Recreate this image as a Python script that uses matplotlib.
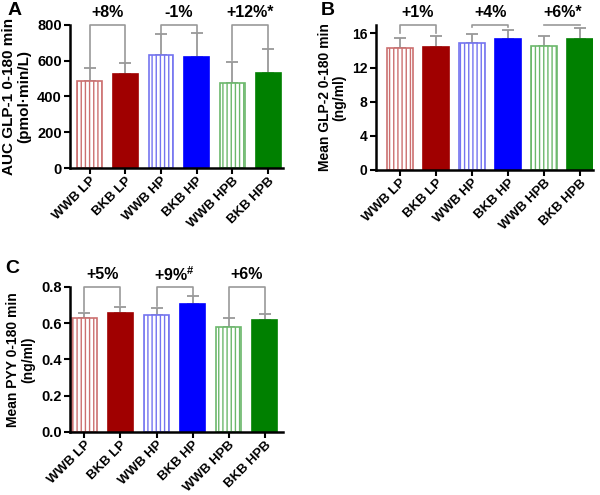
import numpy as np
import matplotlib
matplotlib.use('Agg')
import matplotlib.pyplot as plt

plt.rcParams['font.family'] = ['Liberation Sans', 'DejaVu Sans']
plt.rcParams['font.weight'] = 'bold'
plt.rcParams['mathtext.fontset'] = 'custom'
plt.rcParams['mathtext.rm'] = 'Liberation Sans:bold'
plt.rcParams['mathtext.bf'] = 'Liberation Sans:bold'
plt.rcParams['hatch.linewidth'] = 1.0

# data
groups = ['WWB LP', 'BKB LP', 'WWB HP', 'BKB HP', 'WWB HPB', 'BKB HPB']

glp1_mean = [488, 526, 630, 623, 474, 529]
glp1_err = [70, 59, 117, 130, 120, 135]
glp1_labels = ['+8%', '-1%', '+12%*']

glp2_mean = [14.24, 14.45, 14.85, 15.37, 14.5, 15.37]
glp2_err = [1.26, 1.25, 1.05, 1.03, 1.2, 1.23]
glp2_labels = ['+1%', '+4%', '+6%*']

pyy_mean = [0.627, 0.655, 0.646, 0.705, 0.581, 0.617]
pyy_err = [0.030, 0.036, 0.040, 0.043, 0.045, 0.032]
pyy_labels = ['+5%', '+9%$^{\\#}$', '+6%']

dark = ['#a00000', '#a00000', '#0000ff', '#0000ff', '#008000', '#008000']
light = ['#cc7070', '#cc7070', '#7474f0', '#7474f0', '#6cb86c', '#6cb86c']
grey = '#999999'


def panel(ax, mean, err, labels, ytop, yticks, ylabel, xlim, width,
          same_legs=False, ylsize=10, ytsize=10):
    x = np.arange(len(groups))
    for i in range(len(groups)):
        if i % 2 == 0:
            ax.bar(x[i], mean[i], width, color='white', edgecolor=light[i],
                   hatch='||||', linewidth=1.2, zorder=2)
        else:
            ax.bar(x[i], mean[i], width, color=dark[i], edgecolor=dark[i],
                   linewidth=1.2, zorder=2)
    ax.errorbar(x, mean, yerr=[np.zeros(len(mean)), err], fmt='none',
                ecolor=grey, elinewidth=1.3, capsize=4, capthick=1.3, zorder=1)
    tops = np.array(mean) + np.array(err)
    gap = ytop * 0.01
    for g in range(3):
        a, b = 2 * g, 2 * g + 1
        if same_legs:
            la = lb = max(tops[a], tops[b]) + ytop * 0.02
        else:
            la, lb = tops[a] + gap, tops[b] + gap
        ax.plot([x[a], x[a], x[b], x[b]], [la, ytop, ytop, lb], color=grey,
                lw=1.2, clip_on=False, zorder=1)
        ax.annotate(labels[g], ((x[a] + x[b]) / 2, ytop), xytext=(0, 9),
                    textcoords='offset points', ha='center', va='center',
                    fontsize=11.5, fontweight='bold', annotation_clip=False)
    ax.set_ylim(0, ytop)
    ax.set_xlim(*xlim)
    ax.set_yticks(yticks)
    ax.set_xticks(x)
    ax.set_xticklabels(groups, rotation=45, ha='right', rotation_mode='anchor',
                       fontsize=9.5, fontweight='bold')
    for t in ax.get_yticklabels():
        t.set_fontweight('bold')
        t.set_fontsize(ytsize)
    ax.set_ylabel(ylabel, fontsize=ylsize, fontweight='bold', labelpad=4,
                  linespacing=1.1)
    for s in ['top', 'right']:
        ax.spines[s].set_visible(False)
    for s in ['left', 'bottom']:
        ax.spines[s].set_linewidth(1.8)
    ax.tick_params(width=1.5, length=4, pad=2)
    ax.tick_params(axis='x', pad=1)


fig = plt.figure(figsize=(6, 4.95), dpi=100)
axA = fig.add_axes([0.1167, 0.6606, 0.355, 0.289])
axB = fig.add_axes([0.6267, 0.6566, 0.3617, 0.293])
axC = fig.add_axes([0.1167, 0.1273, 0.355, 0.293])

panel(axA, glp1_mean, glp1_err, glp1_labels, 800, [0, 200, 400, 600, 800],
      'AUC GLP-1 0-180 min\n(pmol·min/L)', (-0.55, 5.42), 0.7,
      ylsize=11, ytsize=10.5)
panel(axB, glp2_mean, glp2_err, glp2_labels, 17, [0, 4, 8, 12, 16],
      'Mean GLP-2 0-180 min\n(ng/ml)', (-0.66, 5.35), 0.72, same_legs=True,
      ylsize=10, ytsize=10)
panel(axC, pyy_mean, pyy_err, pyy_labels, 0.8, [0.0, 0.2, 0.4, 0.6, 0.8],
      'Mean PYY 0-180 min\n(ng/ml)', (-0.40, 5.51), 0.69,
      ylsize=10, ytsize=10.5)
axC.set_yticklabels(['0.0', '0.2', '0.4', '0.6', '0.8'], fontweight='bold',
                    fontsize=10.5)

fig.text(0.012, 0.995, 'A', fontsize=14, fontweight='bold', va='top')
fig.text(0.535, 0.995, 'B', fontsize=14, fontweight='bold', va='top')
fig.text(0.008, 0.475, 'C', fontsize=14, fontweight='bold', va='top')

fig.savefig('out.png', dpi=100)
